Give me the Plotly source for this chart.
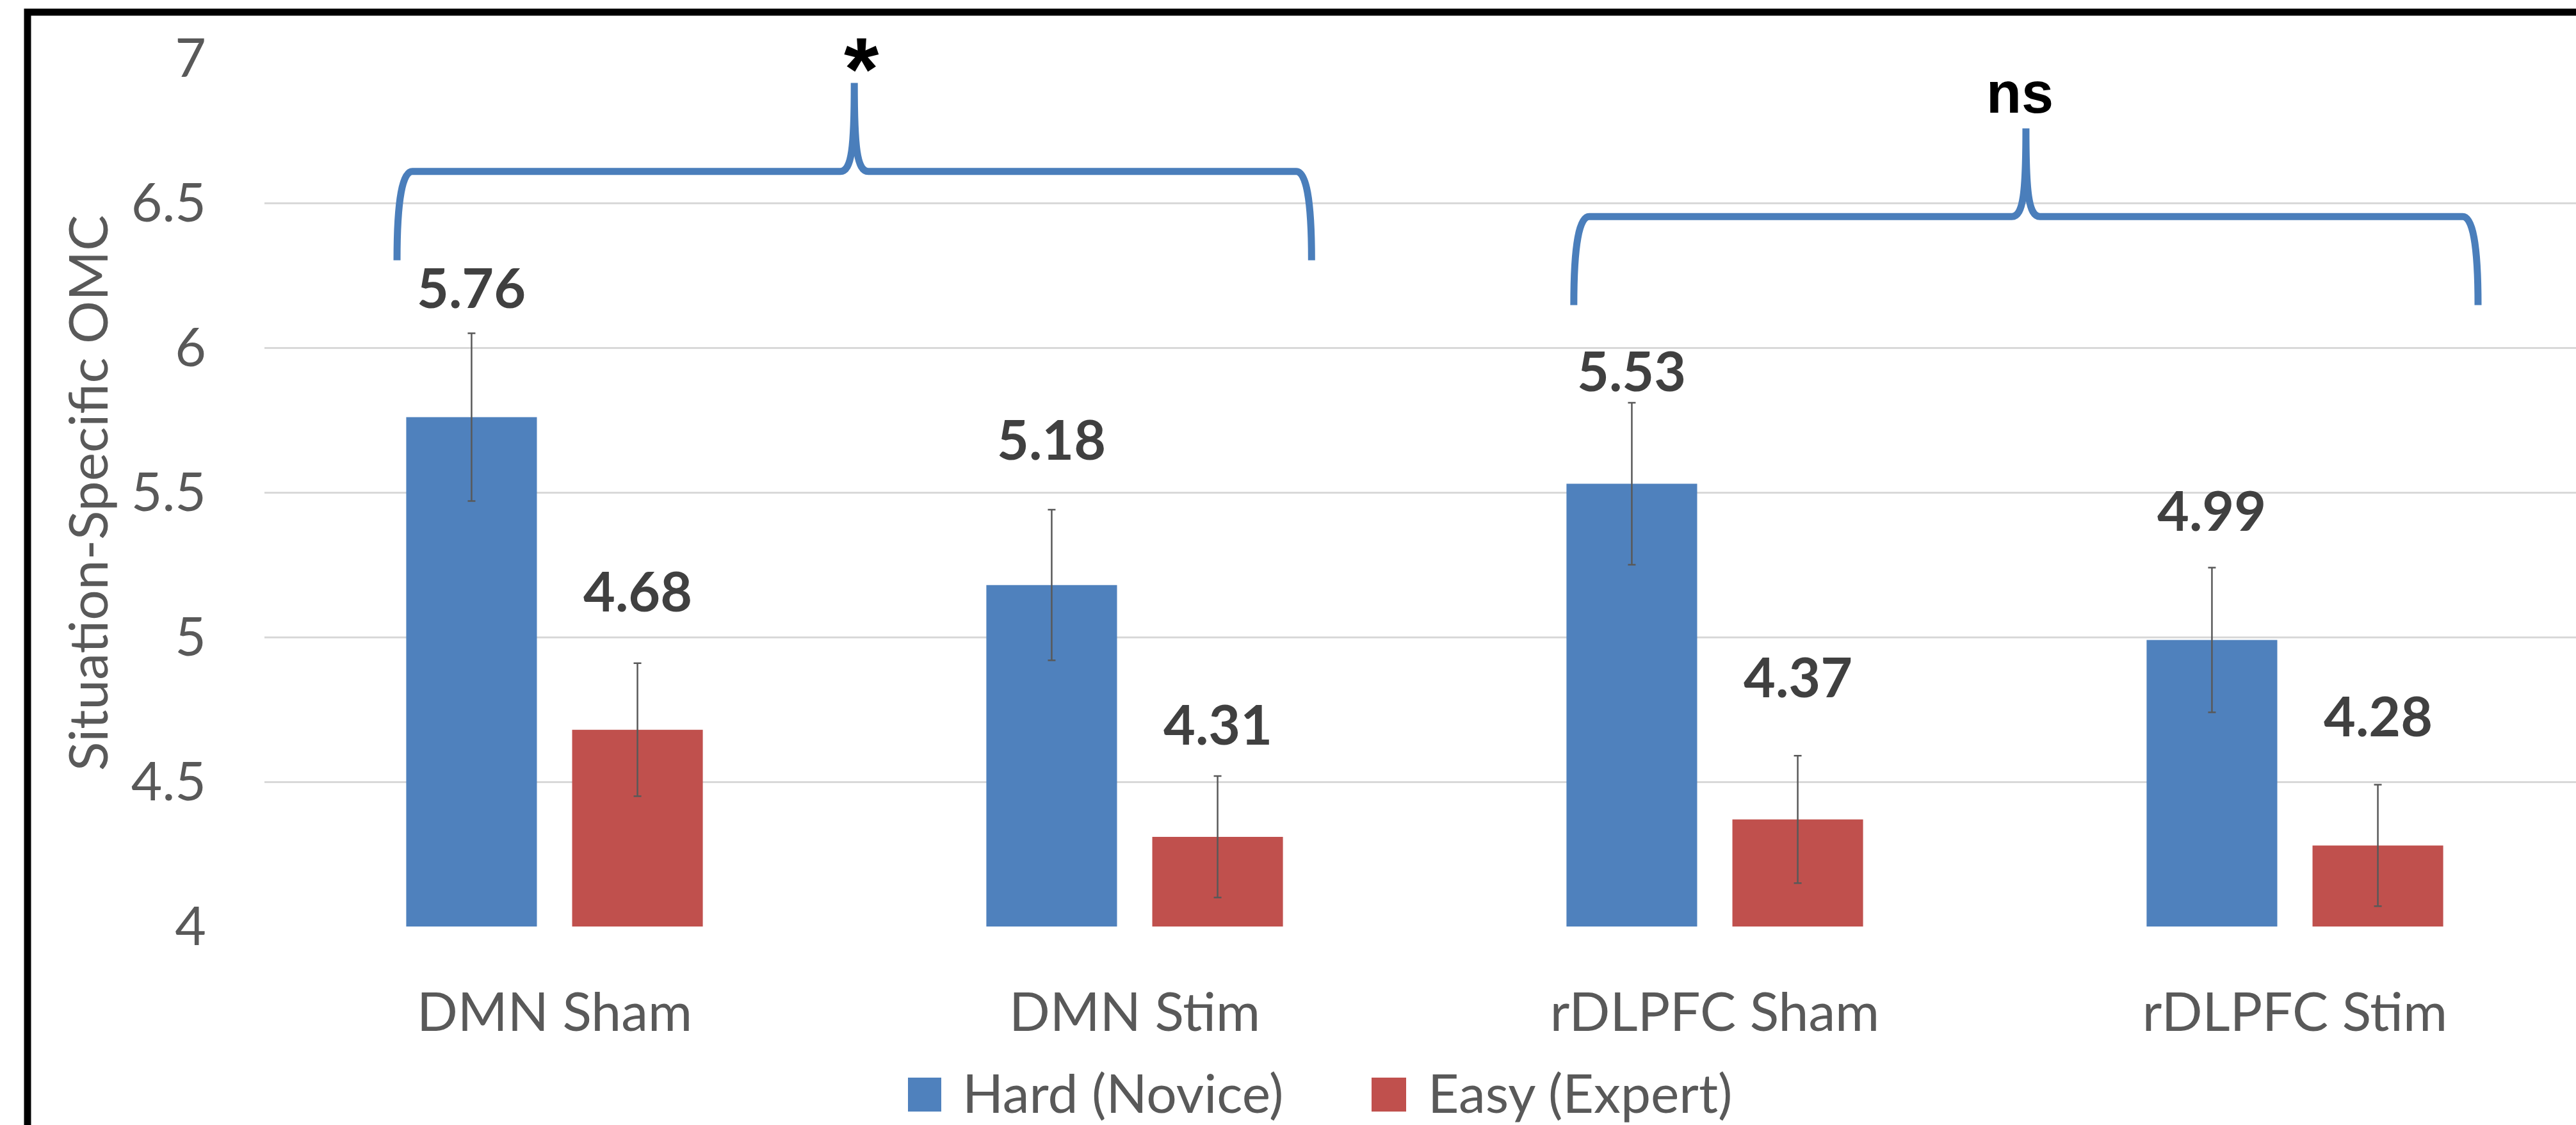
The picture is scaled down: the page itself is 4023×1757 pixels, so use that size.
import plotly.graph_objects as go

# ---------------- data ----------------
categories = ["DMN Sham", "DMN Stim", "rDLPFC Sham", "rDLPFC Stim"]
series_names = ["Hard (Novice)", "Easy (Expert)"]
hard = [5.76, 5.18, 5.53, 4.99]
easy = [4.68, 4.31, 4.37, 4.28]
hard_err = [0.29, 0.26, 0.28, 0.25]
easy_err = [0.23, 0.21, 0.22, 0.21]
y_ticks = [4, 4.5, 5, 5.5, 6, 6.5, 7]
y_tick_text = ["4", "4.5", "5", "5.5", "6", "6.5", "7"]
brace_labels = ["*", "ns"]
y_title = "Situation-Specific OMC"

# ---------------- layout geometry / style ----------------
W, H = 4023, 1757
ML, MR, MT, MB = 413, 0, 91, 310
PW, PH = W - ML - MR, H - MT - MB
CAT_PX = 906
x_range = [-0.5, -0.5 + PW / CAT_PX]
y_range = [4, 7]
ux = (x_range[1] - x_range[0]) / PW
uy = (y_range[1] - y_range[0]) / PH

BLUE, RED, BRACE = "#4F81BD", "#C0504D", "#4A7EBB"
TXT, LBL, ERR = "#595959", "#404040", "#595959"
FONT = "Lato"
BARGAP, GROUPGAP = 0.428, 0.2124

# per-label lift above bar end (px), as placed in the original
hard_lift = [206, 231, 180, 206]
easy_lift = [220, 179, 226, 206]

# braces (data units): x start, x end, line y, tip y, peak y
braces = [
    dict(x0=-0.2715, x1=1.305, y_line=6.609, y_tip=6.302, y_peak=6.915),
    dict(x0=1.757, x1=3.3157, y_line=6.453, y_tip=6.147, y_peak=6.758),
]
brace_label_style = [
    dict(dx=11, dy=22, size=140),
    dict(dx=-9, dy=55, size=90),
]


def px_x(px):
    return (px - ML) / PW


def px_y(py):
    return (H - MB - py) / PH


def brace_path(x0, x1, y_line, y_tip, y_peak, c=24, p=22):
    xm = (x0 + x1) / 2
    cx, pp = c * ux, p * ux
    k1, k2 = 15 * ux, 18 * ux
    d1, d2 = 41 * uy, 38 * uy
    return (
        f"M {x0},{y_tip} C {x0},{y_line - d1} {x0 + cx - k1},{y_line} {x0 + cx},{y_line} "
        f"L {xm - pp},{y_line} C {xm - pp + k2},{y_line} {xm},{y_line + d2} {xm},{y_peak} "
        f"C {xm},{y_line + d2} {xm + pp - k2},{y_line} {xm + pp},{y_line} "
        f"L {x1 - cx},{y_line} C {x1 - cx + k1},{y_line} {x1},{y_line - d1} {x1},{y_tip}"
    )


fig = go.Figure()
for name, vals, errs, col in [
    (series_names[0], hard, hard_err, BLUE),
    (series_names[1], easy, easy_err, RED),
]:
    fig.add_trace(
        go.Bar(
            x=categories,
            y=vals,
            name=name,
            marker=dict(color=col, line=dict(width=0)),
            error_y=dict(type="data", array=errs, color=ERR, thickness=2.5, width=6),
            showlegend=False,
        )
    )

# data labels
half_slot = (1 - BARGAP) / 4
for vals, lifts, sign in [(hard, hard_lift, -1), (easy, easy_lift, 1)]:
    for i, v in enumerate(vals):
        fig.add_annotation(
            x=i + sign * half_slot, y=v, xref="x", yref="y",
            text=f"{v:.2f}", showarrow=False, yanchor="middle", xanchor="center",
            yshift=lifts[i] - 2,
            font=dict(family=FONT, size=86, color=LBL, weight="bold"),
        )

# braces + significance labels
for b, lab, st in zip(braces, brace_labels, brace_label_style):
    fig.add_shape(
        type="path", xref="x", yref="y",
        path=brace_path(b["x0"], b["x1"], b["y_line"], b["y_tip"], b["y_peak"]),
        line=dict(color=BRACE, width=11), layer="above",
    )
    fig.add_annotation(
        x=(b["x0"] + b["x1"]) / 2, y=b["y_peak"], xref="x", yref="y",
        text=f"<b>{lab}</b>", showarrow=False, yanchor="middle", xanchor="center",
        xshift=st["dx"], yshift=st["dy"],
        font=dict(family="Liberation Sans", size=st["size"], color="black"),
    )

# y-axis title
fig.add_annotation(
    x=px_x(135), y=px_y(770), xref="paper", yref="paper",
    text=y_title, textangle=-90, showarrow=False, xanchor="center", yanchor="middle",
    font=dict(family=FONT, size=84, color=TXT),
)

# legend (drawn manually so the swatches match the original size)
legend_px = [(BLUE, 1418, 1470, 1501), (RED, 2142, 2196, 2228)]
for (col, sx0, sx1, tx), name in zip(legend_px, series_names):
    fig.add_shape(
        type="rect", xref="paper", yref="paper",
        x0=px_x(sx0), x1=px_x(sx1), y0=px_y(1736), y1=px_y(1683),
        fillcolor=col, line=dict(width=0),
    )
    fig.add_annotation(
        x=px_x(tx), y=px_y(1705), xref="paper", yref="paper",
        text=name, showarrow=False, xanchor="left", yanchor="middle",
        font=dict(family=FONT, size=84, color=TXT),
    )

# outer black frame (runs off the right and bottom edges)
fig.add_shape(
    type="rect", xref="paper", yref="paper",
    x0=px_x(43), x1=1.3, y0=-0.6, y1=px_y(19),
    line=dict(color="black", width=11), fillcolor="rgba(0,0,0,0)", layer="above",
)

fig.update_layout(
    width=W, height=H,
    margin=dict(l=ML, r=MR, t=MT, b=MB, pad=0),
    paper_bgcolor="white", plot_bgcolor="white",
    barmode="group", bargap=BARGAP, bargroupgap=GROUPGAP,
    showlegend=False,
    font=dict(family=FONT, color=TXT),
    xaxis=dict(
        type="category", range=x_range, showgrid=False, zeroline=False, showline=False,
        ticks="", ticklabelstandoff=78, automargin=False,
        tickfont=dict(family=FONT, size=84, color=TXT),
    ),
    yaxis=dict(
        range=y_range, tickmode="array", tickvals=y_ticks, ticktext=y_tick_text,
        showgrid=True, gridcolor="#D9D9D9", gridwidth=3, zeroline=False, showline=False,
        ticks="", ticklabelstandoff=90, automargin=False,
        tickfont=dict(family=FONT, size=84, color=TXT),
    ),
)

fig.write_html(
    "out.html",
    config={"displayModeBar": False},
    post_script="document.body.style.margin='0';document.body.style.overflow='hidden';",
)
